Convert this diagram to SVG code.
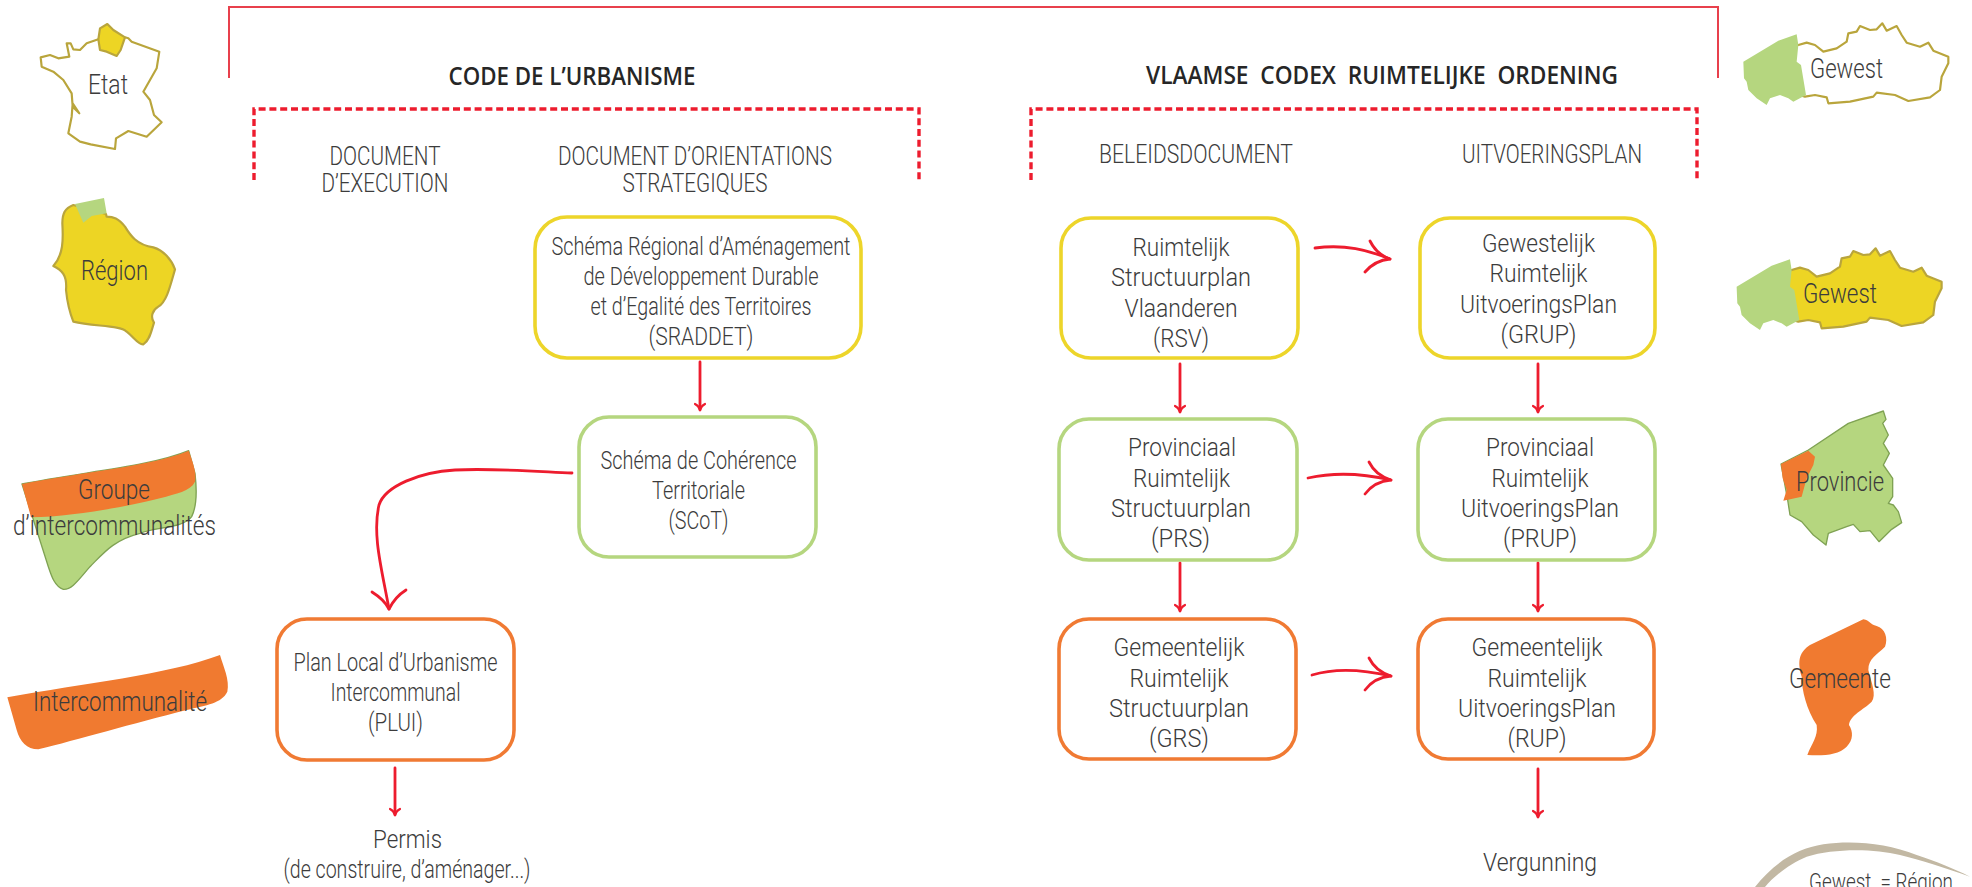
<svg xmlns="http://www.w3.org/2000/svg" width="1972" height="887" viewBox="0 0 1972 887">
<style>
text{font-family:Roboto,"Liberation Sans",sans-serif;font-weight:300;font-size:26.5px;fill:#3c3c3c;text-anchor:middle;white-space:pre}
.h{font-family:"Open Sans","Liberation Sans",sans-serif;font-weight:600;font-size:26px;fill:#262626}
.c{font-size:25px}
.m{font-size:28px}
.box{fill:#fff;stroke-width:3.6}
.y{stroke:#edd52a}.g{stroke:#b5d67f}.o{stroke:#f07a33}
.arrow{fill:none;stroke:#ed1c2e;stroke-width:2.8;stroke-linecap:round;stroke-linejoin:round}
.dash{fill:none;stroke:#ed1c2e;stroke-width:3.4;stroke-dasharray:7 3.8}
.top{fill:none;stroke:#e8404c;stroke-width:2}
.fy{fill:#edd524}.fg{fill:#b5d67f}.fo{fill:#f07a30}
.sy{stroke:#b9a53c;stroke-width:6.5;stroke-linejoin:round}
.sg{stroke:#7fa253;stroke-width:4;stroke-linejoin:round}
</style>
<defs>
<marker id="ah" viewBox="0 0 12 12" refX="11" refY="6" markerWidth="12" markerHeight="12" markerUnits="userSpaceOnUse" orient="auto"><path d="M5,1 Q7,5 11,6 Q7,7 5,11" fill="none" stroke="#ed1c2e" stroke-width="2.2" stroke-linecap="round"/></marker>
<path id="fl" d="M295,135 L320,128 L345,135 L370,155 L410,145 L440,125 L445,100 L470,95 L480,78 L510,90 L530,88 L547,70 L560,92 L590,78 L605,105 L620,128 L660,140 L685,128 L700,152 L745,170 L745,190 L725,230 L720,270 L690,292 L625,303 L585,285 L530,278 L520,290 L450,305 L385,310 L380,292 L345,285 L315,290 L280,280 L280,140 Z"/>
<path id="wv" class="fg" d="M130,185 L235,122 L290,103 L295,135 L290,185 L303,195 L318,285 L280,305 L265,295 L240,285 L210,295 L200,315 L170,295 L145,270 L140,245 L132,235 Z"/>
</defs>

<g id="frames">
<path class="top" d="M229,78 V7 H1718 V78"/>
<path class="dash" d="M254,180 V109 H919 V180"/>
<path class="dash" d="M1031,180 V109 H1697 V180"/>
</g>

<g id="connectors">
<g class="arrow" marker-end="url(#ah)">
<path d="M700,362 V410"/>
<path d="M395,768 V815"/>
<path d="M1180,364 V412"/>
<path d="M1538,364 V412"/>
<path d="M1180,563 V611"/>
<path d="M1538,563 V611"/>
<path d="M1538,769 V817"/>
</g>
<g class="arrow">
<path d="M572,473 C530,471 490,468 455,470 C420,472 385,486 379,505 C372,535 382,570 389,609"/>
<path d="M372,592 C380,597 386,603 389,609 C393,601 398,595 406,590"/>
<path d="M1315,248 C1345,244 1368,250 1390,259"/>
<path d="M1370,241 C1374,249 1381,256 1390,259 C1379,260 1371,265 1365,272"/>
<path d="M1308,478 C1335,472 1365,474 1391,480"/>
<path d="M1369,462 C1373,470 1381,477 1391,480 C1379,481 1371,486 1365,494"/>
<path d="M1312,675 C1338,667 1365,670 1391,676"/>
<path d="M1369,658 C1373,666 1381,673 1391,676 C1379,677 1371,682 1365,690"/>
</g>
</g>

<g id="titles">
<text class="h" x="572" y="85" textLength="247" lengthAdjust="spacingAndGlyphs">CODE DE L’URBANISME</text>
<text class="h" x="1382" y="84" textLength="472" lengthAdjust="spacingAndGlyphs">VLAAMSE  CODEX  RUIMTELIJKE  ORDENING</text>
<text class="c" x="385" y="165" textLength="111" lengthAdjust="spacingAndGlyphs">DOCUMENT</text>
<text class="c" x="385" y="192" textLength="127" lengthAdjust="spacingAndGlyphs">D’EXECUTION</text>
<text class="c" x="695" y="165" textLength="274" lengthAdjust="spacingAndGlyphs">DOCUMENT D’ORIENTATIONS</text>
<text class="c" x="695" y="192" textLength="145" lengthAdjust="spacingAndGlyphs">STRATEGIQUES</text>
<text class="c" x="1196" y="163" textLength="194" lengthAdjust="spacingAndGlyphs">BELEIDSDOCUMENT</text>
<text class="c" x="1552" y="163" textLength="180" lengthAdjust="spacingAndGlyphs">UITVOERINGSPLAN</text>
</g>

<g id="node-sraddet">
<rect class="box y" x="535" y="217" width="326" height="141" rx="32"/>
<text x="701" y="255" textLength="299" lengthAdjust="spacingAndGlyphs">Schéma Régional d’Aménagement</text>
<text x="701" y="285" textLength="235" lengthAdjust="spacingAndGlyphs">de Développement Durable</text>
<text x="701" y="315" textLength="221" lengthAdjust="spacingAndGlyphs">et d’Egalité des Territoires</text>
<text x="701" y="345" textLength="105" lengthAdjust="spacingAndGlyphs">(SRADDET)</text>
</g>
<g id="node-scot">
<rect class="box g" x="579" y="417" width="237" height="140" rx="30"/>
<text x="698.5" y="469" textLength="196" lengthAdjust="spacingAndGlyphs">Schéma de Cohérence</text>
<text x="698.5" y="499" textLength="93" lengthAdjust="spacingAndGlyphs">Territoriale</text>
<text x="698.5" y="529" textLength="60" lengthAdjust="spacingAndGlyphs">(SCoT)</text>
</g>
<g id="node-plui">
<rect class="box o" x="277" y="619" width="237" height="141" rx="30"/>
<text x="395.5" y="671" textLength="204" lengthAdjust="spacingAndGlyphs">Plan Local d’Urbanisme</text>
<text x="395.5" y="701" textLength="130" lengthAdjust="spacingAndGlyphs">Intercommunal</text>
<text x="395.5" y="731" textLength="55" lengthAdjust="spacingAndGlyphs">(PLUI)</text>
</g>
<g id="node-permis">
<text x="407.5" y="848" textLength="69" lengthAdjust="spacingAndGlyphs">Permis</text>
<text x="407" y="878" textLength="247" lengthAdjust="spacingAndGlyphs">(de construire, d’aménager...)</text>
</g>
<g id="node-rsv">
<rect class="box y" x="1061" y="218" width="237" height="140" rx="30"/>
<text x="1181" y="256" textLength="97" lengthAdjust="spacingAndGlyphs">Ruimtelijk</text>
<text x="1181" y="286" textLength="140" lengthAdjust="spacingAndGlyphs">Structuurplan</text>
<text x="1181" y="317" textLength="113" lengthAdjust="spacingAndGlyphs">Vlaanderen</text>
<text x="1181" y="347" textLength="56" lengthAdjust="spacingAndGlyphs">(RSV)</text>
</g>
<g id="node-grup">
<rect class="box y" x="1420" y="218" width="235" height="140" rx="30"/>
<text x="1538.5" y="252" textLength="113" lengthAdjust="spacingAndGlyphs">Gewestelijk</text>
<text x="1538.5" y="282" textLength="98" lengthAdjust="spacingAndGlyphs">Ruimtelijk</text>
<text x="1538.5" y="313" textLength="157" lengthAdjust="spacingAndGlyphs">UitvoeringsPlan</text>
<text x="1538.5" y="343" textLength="76" lengthAdjust="spacingAndGlyphs">(GRUP)</text>
</g>
<g id="node-prs">
<rect class="box g" x="1059" y="419" width="238" height="141" rx="30"/>
<text x="1182" y="456" textLength="108" lengthAdjust="spacingAndGlyphs">Provinciaal</text>
<text x="1181.5" y="487" textLength="97" lengthAdjust="spacingAndGlyphs">Ruimtelijk</text>
<text x="1181" y="517" textLength="140" lengthAdjust="spacingAndGlyphs">Structuurplan</text>
<text x="1180.5" y="547" textLength="59" lengthAdjust="spacingAndGlyphs">(PRS)</text>
</g>
<g id="node-prup">
<rect class="box g" x="1418" y="419" width="237" height="141" rx="30"/>
<text x="1540" y="456" textLength="108" lengthAdjust="spacingAndGlyphs">Provinciaal</text>
<text x="1540" y="487" textLength="97" lengthAdjust="spacingAndGlyphs">Ruimtelijk</text>
<text x="1540" y="517" textLength="158" lengthAdjust="spacingAndGlyphs">UitvoeringsPlan</text>
<text x="1540" y="547" textLength="74" lengthAdjust="spacingAndGlyphs">(PRUP)</text>
</g>
<g id="node-grs">
<rect class="box o" x="1059" y="619" width="237" height="140" rx="30"/>
<text x="1179" y="656" textLength="131" lengthAdjust="spacingAndGlyphs">Gemeentelijk</text>
<text x="1179" y="687" textLength="99" lengthAdjust="spacingAndGlyphs">Ruimtelijk</text>
<text x="1179" y="717" textLength="140" lengthAdjust="spacingAndGlyphs">Structuurplan</text>
<text x="1179" y="747" textLength="60" lengthAdjust="spacingAndGlyphs">(GRS)</text>
</g>
<g id="node-rup">
<rect class="box o" x="1418" y="619" width="236" height="140" rx="30"/>
<text x="1537" y="656" textLength="131" lengthAdjust="spacingAndGlyphs">Gemeentelijk</text>
<text x="1537" y="687" textLength="99" lengthAdjust="spacingAndGlyphs">Ruimtelijk</text>
<text x="1537" y="717" textLength="158" lengthAdjust="spacingAndGlyphs">UitvoeringsPlan</text>
<text x="1537" y="747" textLength="59" lengthAdjust="spacingAndGlyphs">(RUP)</text>
</g>
<g id="node-vergunning">
<text x="1540" y="871" textLength="114" lengthAdjust="spacingAndGlyphs">Vergunning</text>
</g>

<g id="legend-etat">
<g transform="scale(.33333)">
<path fill="#fff" class="sy" d="M295,118 L260,130 L240,150 L220,148 L212,130 L200,130 L208,170 L175,175 L150,165 L122,172 L125,200 L160,215 L190,240 L215,280 L218,320 L238,340 L218,310 L215,350 L205,400 L240,425 L272,433 L345,447 L348,415 L385,393 L440,410 L485,367 L462,345 L450,300 L430,275 L470,205 L478,155 L395,125 L385,115 L375,112"/>
<path class="fy sy" d="M295,118 L300,85 L322,72 L340,90 L375,112 L362,150 L350,168 L320,155 L300,150 Z"/>
</g>
<text class="m" x="108" y="94" textLength="40" lengthAdjust="spacingAndGlyphs">Etat</text>
</g>
<g id="legend-region">
<g transform="translate(30,190) scale(.33333)">
<path class="fy sy" d="M130,45 C105,55 97,70 97,100 C100,150 100,195 70,228 C95,240 112,255 108,300 C112,340 122,375 130,395 C190,410 270,405 290,425 C310,440 325,465 340,463 C360,450 365,420 372,398 C360,380 368,360 385,350 C410,335 420,290 435,238 C425,210 400,180 370,172 C320,165 300,135 285,110 C265,85 250,80 230,80 L228,72 Z"/>
<path class="fg" d="M135,42 L222,24 L230,70 L185,78 L160,98 Z"/>
</g>
<text class="m" x="114.5" y="280" textLength="67" lengthAdjust="spacingAndGlyphs">Région</text>
</g>
<g id="legend-groupe">
<g transform="translate(0,430) scale(.33333)">
<path class="fg sg" d="M566,62 L585,130 C592,190 590,230 575,260 C550,295 470,290 420,310 C340,330 310,370 270,410 C235,450 215,480 190,478 C165,470 155,440 145,410 L66,162 C250,125 450,110 566,62 Z"/>
<path class="fo" d="M66,162 C250,125 450,110 566,62 C580,100 590,130 585,155 C570,185 530,190 480,205 C380,230 220,260 93,262 Z"/>
</g>
<text class="m" x="114" y="499" textLength="72" lengthAdjust="spacingAndGlyphs">Groupe</text>
<text class="m" x="114.5" y="535" textLength="203" lengthAdjust="spacingAndGlyphs">d’intercommunalités</text>
</g>
<g id="legend-intercommunalite">
<path class="fo" transform="translate(0,430) scale(.33333)" d="M22,802 C250,760 500,735 660,675 C670,710 690,750 682,785 C665,820 620,825 560,840 C400,880 230,930 115,958 C80,958 60,935 50,900 Z"/>
<text class="m" x="120" y="711" textLength="174" lengthAdjust="spacingAndGlyphs">Intercommunalité</text>
</g>
<g id="legend-gewest-1">
<g transform="translate(1700,0) scale(.33333)">
<use href="#fl" fill="#fff" class="sy"/>
<use href="#wv"/>
</g>
<text class="m" x="1846.5" y="78" textLength="73" lengthAdjust="spacingAndGlyphs">Gewest</text>
</g>
<g id="legend-gewest-2">
<g transform="translate(1693.3,225) scale(.33333)">
<use href="#fl" class="fy sy"/>
<use href="#wv"/>
</g>
<text class="m" x="1840" y="303" textLength="74" lengthAdjust="spacingAndGlyphs">Gewest</text>
</g>
<g id="legend-provincie">
<g transform="translate(1700,390) scale(.33333)">
<path class="fg sg" d="M550,63 L445,100 L325,180 L243,222 L263,330 L270,375 L305,395 L340,435 L378,465 L385,430 L440,410 L460,403 L480,425 L510,422 L537,455 L575,418 L605,398 L595,365 L580,345 L565,340 L578,320 L578,265 L550,225 L568,190 L550,160 L565,135 L548,100 L558,88 Z"/>
<path class="fo" d="M243,222 L325,182 L345,200 L340,225 L320,265 L305,320 L250,332 L260,300 L248,265 Z"/>
</g>
<text class="m" x="1840" y="491" textLength="88" lengthAdjust="spacingAndGlyphs">Provincie</text>
</g>
<g id="legend-gemeente">
<path class="fo" transform="translate(1700,390) scale(.33333)" d="M490,688 C510,690 510,705 530,708 C555,715 565,745 555,770 C530,795 505,805 505,840 C515,880 530,915 515,935 C490,960 450,975 447,1005 C460,1025 460,1050 440,1070 C415,1095 370,1098 322,1095 C335,1060 355,1040 350,1005 C320,960 305,900 305,860 C290,810 300,785 330,765 Z"/>
<text class="m" x="1840" y="688" textLength="102" lengthAdjust="spacingAndGlyphs">Gemeente</text>
</g>
<g id="note">
<path fill="#c2b8a3" transform="translate(1740,830) scale(.33333)" d="M45,171 C100,100 170,55 250,43 C340,30 440,40 530,75 C590,95 640,115 690,140 C620,115 540,90 480,75 C400,55 280,55 200,80 C150,100 100,140 75,171 Z"/>
<text x="1881" y="890" style="font-size:24px" textLength="144" lengthAdjust="spacingAndGlyphs">Gewest  = Région</text>
</g>
</svg>
